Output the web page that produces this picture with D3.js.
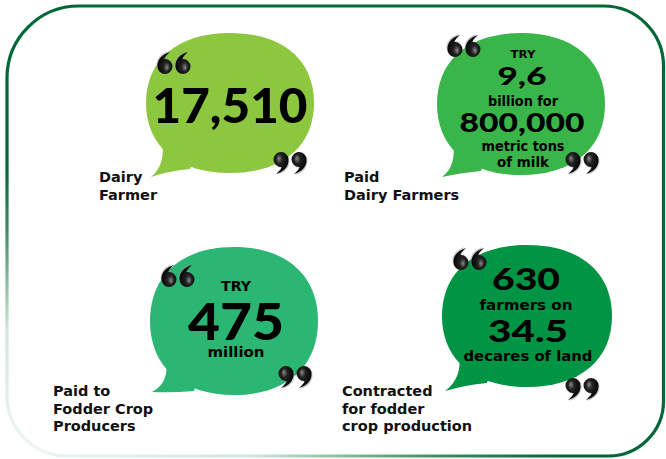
<!DOCTYPE html>
<html>
<head>
<meta charset="utf-8">
<script src="https://cdn.jsdelivr.net/npm/d3@7"></script>
<style>
  body { margin: 0; background: #fff; }
</style>
</head>
<body>
<div id="chart"></div>
<script>

// ---- data ----
var captions = [
  ["Dairy", "Farmer"],
  ["Paid", "Dairy Farmers"],
  ["Paid to", "Fodder Crop", "Producers"],
  ["Contracted", "for fodder", "crop production"]
];

var bubbleLines = [
  ["17,510"],
  ["TRY", "9,6", "billion for", "800,000", "metric tons", "of milk"],
  ["TRY", "475", "million"],
  ["630", "farmers on", "34.5", "decares of land"]
];

var bubbleColors = ["#8dc63f", "#39b54a", "#2bb673", "#009444"];
var bubbleCol = [0, 1, 0, 1];
var bubbleRow = [0, 0, 1, 1];

// ---- layout (relative to each grid cell centre) ----
// shape: [dx, dy, rx, ry, tailX, tailY]
var shapeLayout = [
  [-2, -1, 84, 70, -79, 74],
  [-3, 0, 84, 71, -79, 73],
  [2, 3, 84, 74, -82, 71],
  [3, -2, 85, 71, -82, 75]
];
// text: [dx, dy(baseline), font size, width]
var lineLayout = [
  [[-2, 19, 48, 155]],
  [[-1, -46, 10.5, 25], [-2, -19, 25, 49], [-1, 2, 13.5, 70], [-2, 28, 26, 125], [-1, 47, 13.5, 83], [-1, 63, 13.5, 52]],
  [[4, -27, 14.5, 30], [4, 22, 51, 96], [4, 39, 14.5, 57]],
  [[2, -28, 31, 68], [2, -8, 14.5, 93], [4, 24, 31, 80], [4, 43, 14.5, 129]]
];
// caption first baseline
var captionLayout = [[-133, 78], [-180, 78], [-179, 78], [-182, 78]];
// quote pairs: open [dx,dy], close [dx,dy] (top-left of the pair)
var quoteLayout = [
  [[-75, -52], [41, 48]],
  [[-77, -69], [41, 48]],
  [[-71, -53], [46, 48]],
  [[-71, -70], [41, 60]]
];

var width = 666, height = 459;

var svg = d3.select("#chart")
  .append("svg")
    .attr("width", width)
    .attr("height", height);

var x = d3.scalePoint().domain([0, 1]).range([232, 524]);
var y = d3.scalePoint().domain([0, 1]).range([104, 318]);

var defs = svg.append("defs");

// frame fades out towards the bottom-left corner
var borderGrad = defs.append("radialGradient")
  .attr("id", "borderGrad")
  .attr("gradientUnits", "userSpaceOnUse")
  .attr("cx", 0).attr("cy", 0).attr("r", 1)
  .attr("gradientTransform", "translate(0,459) scale(560,290)");
borderGrad.append("stop").attr("offset", 0).attr("stop-color", "#f2f8f5");
borderGrad.append("stop").attr("offset", 0.45).attr("stop-color", "#cfe6da");
borderGrad.append("stop").attr("offset", 0.78).attr("stop-color", "#3f8f62");
borderGrad.append("stop").attr("offset", 1).attr("stop-color", "#006837");

var gloss = defs.append("radialGradient")
  .attr("id", "gloss")
  .attr("cx", "45%").attr("cy", "40%").attr("r", "60%")
  .attr("fx", "35%").attr("fy", "28%");
gloss.append("stop").attr("offset", 0).attr("stop-color", "#8a8a8a");
gloss.append("stop").attr("offset", 0.35).attr("stop-color", "#222");
gloss.append("stop").attr("offset", 1).attr("stop-color", "#000");

// rounded frame with different corner radii
function frame(x0, y0, x1, y1, rtl, rtr, rbr, rbl) {
  var p = d3.path();
  p.moveTo(x0 + rtl, y0);
  p.lineTo(x1 - rtr, y0);
  p.arcTo(x1, y0, x1, y0 + rtr, rtr);
  p.lineTo(x1, y1 - rbr);
  p.arcTo(x1, y1, x1 - rbr, y1, rbr);
  p.lineTo(x0 + rbl, y1);
  p.arcTo(x0, y1, x0, y1 - rbl, rbl);
  p.lineTo(x0, y0 + rtl);
  p.arcTo(x0, y0, x0 + rtl, y0, rtl);
  p.closePath();
  return p.toString();
}

svg.append("path")
  .attr("d", frame(7, 6, 663.5, 456, 72, 60, 55, 60))
  .attr("fill", "none")
  .attr("stroke", "url(#borderGrad)")
  .attr("stroke-width", 3.2);

// speech bubble body: squarish blob
function bodyPath(cx, cy, rx, ry) {
  var k = 0.62;
  return "M" + (cx + rx) + "," + cy +
    "C" + (cx + rx) + "," + (cy + k * ry) + " " + (cx + k * rx) + "," + (cy + ry) + " " + cx + "," + (cy + ry) +
    "C" + (cx - k * rx) + "," + (cy + ry) + " " + (cx - rx) + "," + (cy + k * ry) + " " + (cx - rx) + "," + cy +
    "C" + (cx - rx) + "," + (cy - k * ry) + " " + (cx - k * rx) + "," + (cy - ry) + " " + cx + "," + (cy - ry) +
    "C" + (cx + k * rx) + "," + (cy - ry) + " " + (cx + rx) + "," + (cy - k * ry) + " " + (cx + rx) + "," + cy + "Z";
}

// tail pointing to the bottom-left
function tailPath(cx, cy, ry, tx, ty) {
  var px = cx + tx, py = cy + ty;
  return "M" + (cx - 68) + "," + (cy + 36) +
    "Q" + (cx - 64) + "," + (cy + 62) + " " + px + "," + py +
    "Q" + (cx - 62) + "," + (cy + ry - 2) + " " + (cx - 40) + "," + (cy + ry - 4) +
    "L" + (cx - 30) + "," + (cy + 36) + "Z";
}

// one closing mark in a 16x22 box, ball on top
var markPath = "M15.5,7.5 C16,14.5 11,19.5 3,22 C7,18.5 9.5,15.5 8.5,13 Z" +
  "M15.5,7.5 A7.5,7.5 0 1,1 0.5,7.5 A7.5,7.5 0 1,1 15.5,7.5 Z";

function quotePair(g, qx, qy, opening) {
  var pair = g.append("g").attr("transform", "translate(" + qx + "," + qy + ")");
  [0, 18].forEach(function(off) {
    var tr = opening
      ? "translate(" + (off + 16) + ",22) rotate(180)"
      : "translate(" + off + ",0)";
    pair.append("path")
      .attr("d", markPath)
      .attr("transform", tr + " translate(1,1)")
      .attr("fill", "#9a9a9a")
      .attr("opacity", 0.55);
    pair.append("path")
      .attr("d", markPath)
      .attr("transform", tr)
      .attr("fill", "url(#gloss)");
  });
}

var labelFont = "'DejaVu Sans', 'Open Sans', sans-serif";
var numFont = "Lato, 'Noto Sans', sans-serif";

bubbleLines.forEach(function(lines, i) {
  var cx = x(bubbleCol[i]), cy = y(bubbleRow[i]);
  var s = shapeLayout[i];
  var g = svg.append("g");

  g.append("path")
    .attr("d", bodyPath(cx + s[0], cy + s[1], s[2], s[3]))
    .attr("fill", bubbleColors[i]);
  g.append("path")
    .attr("d", tailPath(cx + s[0], cy + s[1], s[3], s[4], s[5]))
    .attr("fill", bubbleColors[i]);

  g.selectAll("text.line")
    .data(lines)
    .enter()
    .append("text")
      .attr("class", "line")
      .attr("x", function(d, j) { return cx + lineLayout[i][j][0]; })
      .attr("y", function(d, j) { return cy + lineLayout[i][j][1]; })
      .attr("text-anchor", "middle")
      .attr("textLength", function(d, j) { return lineLayout[i][j][3]; })
      .attr("lengthAdjust", "spacingAndGlyphs")
      .style("font-family", function(d, j) { return lineLayout[i][j][2] > 20 ? numFont : labelFont; })
      .style("font-weight", function(d, j) { return lineLayout[i][j][2] > 20 ? 900 : 700; })
      .style("font-size", function(d, j) { return lineLayout[i][j][2] + "px"; })
      .style("fill", "#000")
      .text(function(d) { return d; });

  quotePair(g, cx + quoteLayout[i][0][0], cy + quoteLayout[i][0][1], true);
  quotePair(g, cx + quoteLayout[i][1][0], cy + quoteLayout[i][1][1], false);

  var cap = g.append("text")
    .attr("x", cx + captionLayout[i][0])
    .attr("y", cy + captionLayout[i][1])
    .style("font-family", labelFont)
    .style("font-weight", 700)
    .style("font-size", "14.5px")
    .style("fill", "#111");
  cap.selectAll("tspan")
    .data(captions[i])
    .enter()
    .append("tspan")
      .attr("x", cx + captionLayout[i][0])
      .attr("dy", function(d, j) { return j === 0 ? 0 : 17.5; })
      .text(function(d) { return d; });
});

</script>
</body>
</html>
